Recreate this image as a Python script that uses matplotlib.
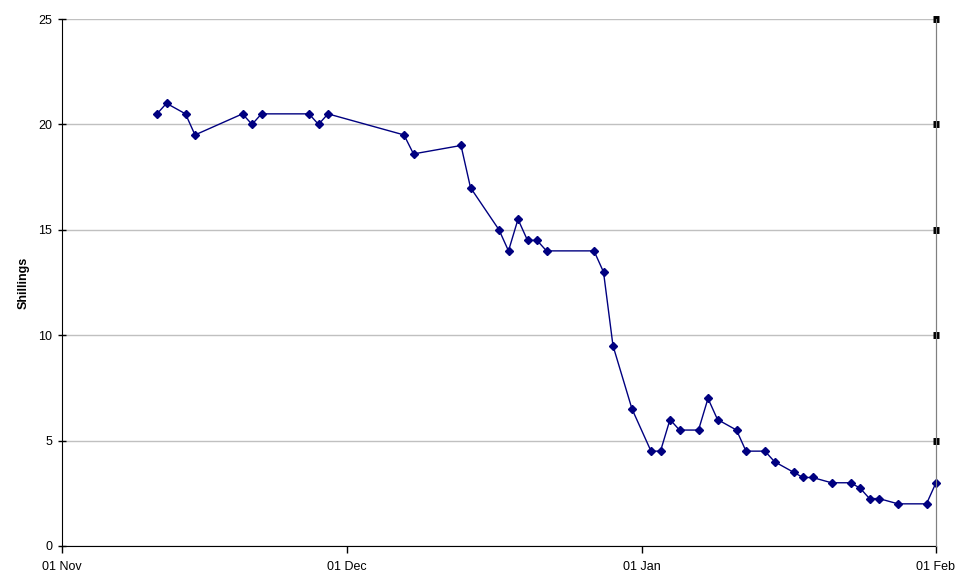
import matplotlib
matplotlib.use("Agg")
import matplotlib.pyplot as plt
import matplotlib.dates as mdates
from datetime import datetime

dates = ["2001-11-11", "2001-11-12", "2001-11-14", "2001-11-15", "2001-11-20",
         "2001-11-21", "2001-11-22", "2001-11-27", "2001-11-28", "2001-11-29",
         "2001-12-07", "2001-12-08", "2001-12-13", "2001-12-14", "2001-12-17",
         "2001-12-18", "2001-12-19", "2001-12-20", "2001-12-21", "2001-12-22",
         "2001-12-27", "2001-12-28", "2001-12-29", "2001-12-31", "2002-01-02",
         "2002-01-03", "2002-01-04", "2002-01-05", "2002-01-07", "2002-01-08",
         "2002-01-09", "2002-01-11", "2002-01-12", "2002-01-14", "2002-01-15",
         "2002-01-17", "2002-01-18", "2002-01-19", "2002-01-21", "2002-01-23",
         "2002-01-24", "2002-01-25", "2002-01-26", "2002-01-28", "2002-01-31",
         "2002-02-01"]
shillings = [20.5, 21, 20.5, 19.5, 20.5,
             20, 20.5, 20.5, 20, 20.5,
             19.5, 18.6, 19, 17, 15,
             14, 15.5, 14.5, 14.5, 14,
             14, 13, 9.5, 6.5, 4.5,
             4.5, 6, 5.5, 5.5, 7,
             6, 5.5, 4.5, 4.5, 4,
             3.5, 3.25, 3.25, 3, 3,
             2.75, 2.25, 2.25, 2, 2,
             3]
x_ticks = ["2001-11-01", "2001-12-01", "2002-01-01", "2002-02-01"]
y_ticks = [0, 5, 10, 15, 20, 25]

plt.rcParams['font.family'] = ['Liberation Sans', 'DejaVu Sans']

xd = [datetime.strptime(d, "%Y-%m-%d") for d in dates]
xt = [datetime.strptime(d, "%Y-%m-%d") for d in x_ticks]

fig = plt.figure(figsize=(9.59, 5.83), dpi=100)
ax = fig.add_axes([62/959, 37/583, (936-62)/959, (546-19)/583])

ax.plot(xd, shillings, color="#000080", lw=1.0, marker="D", markersize=4,
        markerfacecolor="#000080", markeredgecolor="#000080", zorder=3,
        clip_on=False)

ax.set_xlim(xt[0], xt[-1])
ax.set_ylim(0, 25)
ax.set_xticks(xt)
ax.xaxis.set_major_formatter(mdates.DateFormatter("%d %b"))
ax.set_yticks(y_ticks)
ax.yaxis.grid(True, color="#c0c0c0", lw=1)
ax.set_axisbelow(True)

ax.spines["top"].set_visible(False)
ax.spines["right"].set_color("#808080")
ax.spines["left"].set_color("black")
ax.spines["bottom"].set_color("black")

ax.tick_params(axis="y", direction="inout", length=6, width=1, labelsize=9, pad=4)
ax.tick_params(axis="x", direction="out", length=5, width=1, labelsize=9, pad=6)

ax2 = ax.twinx()
ax2.set_ylim(0, 25)
ax2.set_yticks(y_ticks[1:])
ax2.set_yticklabels([])
ax2.tick_params(axis="y", direction="inout", length=5, width=5, color="black")
for s in ["top", "left", "bottom"]:
    ax2.spines[s].set_visible(False)
ax2.spines["right"].set_color("#808080")

ax.set_ylabel("Shillings", fontsize=9, fontweight="bold")
ax.yaxis.set_label_coords((30 - 62) / 874, 0.5)

fig.savefig("out.png", dpi=100)
